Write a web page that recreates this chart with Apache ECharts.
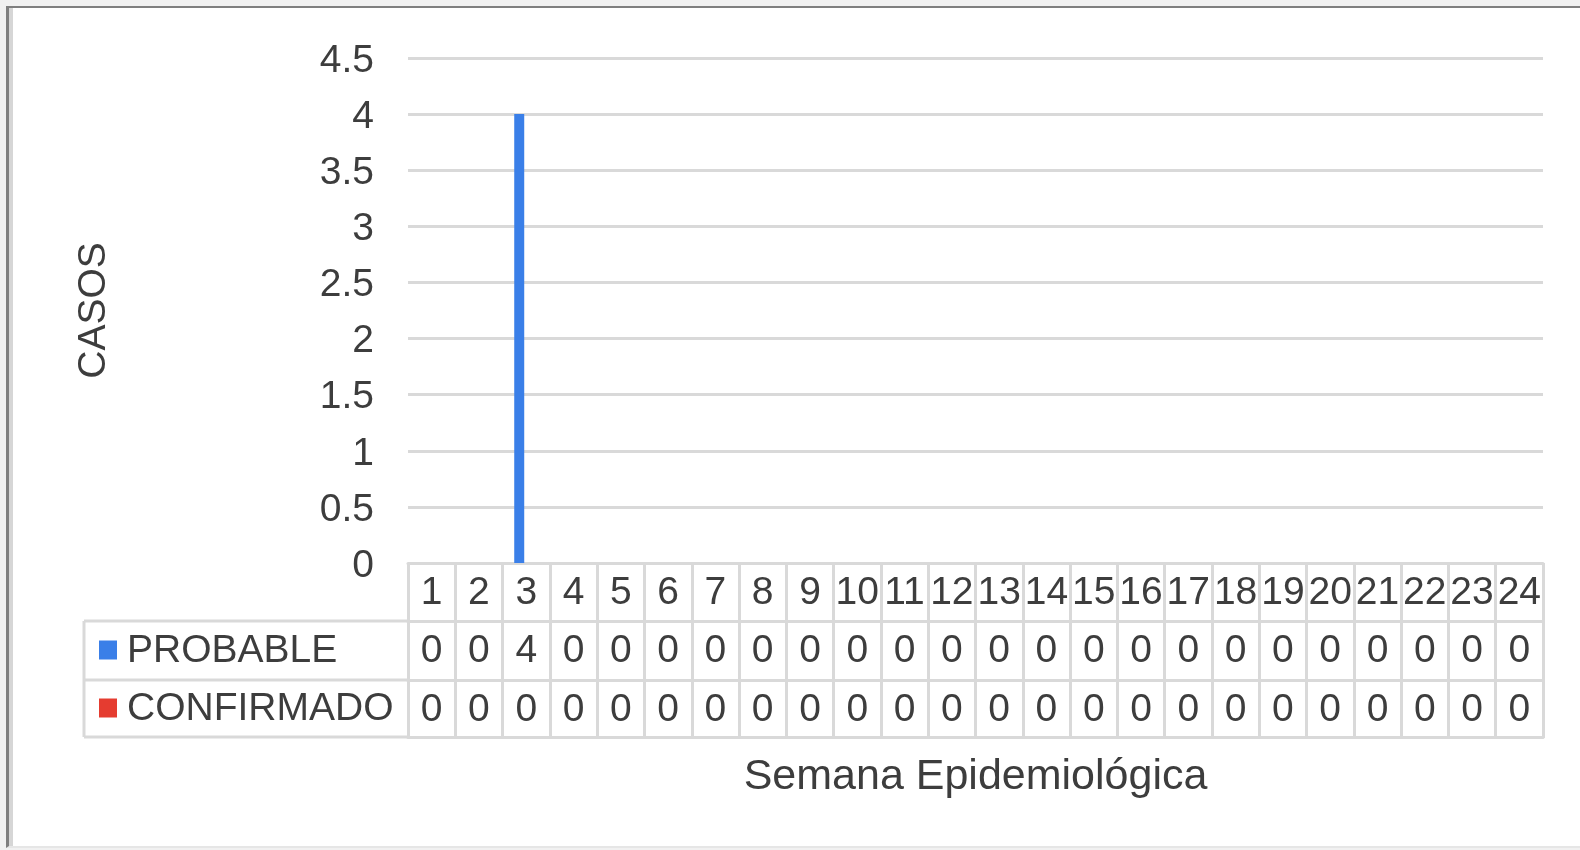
<!DOCTYPE html>
<html>
<head>
<meta charset="utf-8">
<script src="https://cdn.jsdelivr.net/npm/echarts@6/dist/echarts.min.js"></script>
<style>
html,body{margin:0;padding:0;width:1580px;height:850px;overflow:hidden;background:#f1f1f1;}
#frame{position:absolute;left:6px;top:6px;width:1574px;height:842px;background:#fff;border-top:2px solid #7f7f7f;border-left:3px solid #7f7f7f;border-bottom:2px solid #e6e6e6;box-sizing:border-box;box-shadow:inset 4px 0 0 #d6d6d6;}
#chart{position:absolute;left:0;top:0;width:1580px;height:850px;}
</style>
</head>
<body>
<div id="frame"></div>
<div id="chart"></div>
<script>
// ---- data ----
const weeks = ['1','2','3','4','5','6','7','8','9','10','11','12','13','14','15','16','17','18','19','20','21','22','23','24'];
const seriesNames = ['PROBABLE', 'CONFIRMADO'];
const probable = [0,0,4,0,0,0,0,0,0,0,0,0,0,0,0,0,0,0,0,0,0,0,0,0];
const confirmado = [0,0,0,0,0,0,0,0,0,0,0,0,0,0,0,0,0,0,0,0,0,0,0,0];
const yMax = 4.5, yStep = 0.5;
const yName = 'CASOS';
const xName = 'Semana Epidemiológica';

// ---- layout / style ----
const W = 1580, H = 850;
const gLeft = 408, gRight = 37, gTop = 58, gBottomY = 563;
const rowOffsets = [58, 117, 174];
const legendLeft = 84;
const colors = ['#3a7fe8', '#e53c30'];
const txt = '#3d3d3d';
const lineC = '#d9d9d9';
const font = '"Liberation Sans", Arial, sans-serif';
const fs = 39;

const chart = echarts.init(document.getElementById('chart'), null, {renderer: 'canvas'});

function xAx(extra) {
  return Object.assign({
    type: 'category', data: weeks, position: 'bottom', boundaryGap: true,
    axisLine: {show: true, lineStyle: {color: lineC, width: 3}},
    axisTick: {show: false},
    axisLabel: {show: true, interval: 0, margin: 11, color: txt, fontSize: fs, fontFamily: font},
    splitLine: {show: false}
  }, extra);
}

const graphic = [];
const rowYs = rowOffsets.map(o => gBottomY + o);
// horizontal lines of legend column
rowYs.forEach(y => graphic.push({type: 'line', shape: {x1: legendLeft, y1: y, x2: gLeft, y2: y}, style: {stroke: lineC, lineWidth: 3}, silent: true}));
graphic.push({type: 'line', shape: {x1: legendLeft, y1: rowYs[0], x2: legendLeft, y2: rowYs[2]}, style: {stroke: lineC, lineWidth: 3}, silent: true});
// legend keys
seriesNames.forEach((n, i) => {
  const cy = (rowYs[i] + rowYs[i + 1]) / 2;
  graphic.push({type: 'rect', shape: {x: 99, y: cy - 10, width: 18, height: 19}, style: {fill: colors[i]}, silent: true});
  graphic.push({type: 'text', x: 127, y: cy + 1, style: {text: n, fill: txt, font: fs + 'px ' + font, textVerticalAlign: 'middle', textAlign: 'left'}, silent: true});
});

chart.setOption({
  animation: false,
  grid: {left: gLeft, right: gRight, top: gTop, bottom: H - gBottomY, containLabel: false},
  xAxis: [
    xAx({axisTick: {show: true, length: rowOffsets[2] + 1, inside: false, lineStyle: {color: lineC, width: 3}}}),
    xAx({offset: rowOffsets[0], axisLabel: {interval: 0, margin: 11, color: txt, fontSize: fs, fontFamily: font, formatter: (v, i) => String(probable[i])}}),
    xAx({offset: rowOffsets[1], axisLabel: {interval: 0, margin: 11, color: txt, fontSize: fs, fontFamily: font, formatter: (v, i) => String(confirmado[i])}}),
    xAx({offset: rowOffsets[2], axisLabel: {show: false}, name: xName, nameLocation: 'middle', nameGap: 19,
         nameTextStyle: {color: txt, fontSize: 43, fontFamily: font}})
  ],
  yAxis: {
    type: 'value', min: 0, max: yMax, interval: yStep,
    axisLine: {show: false}, axisTick: {show: false},
    axisLabel: {margin: 34, formatter: v => '{v|' + v + '}',
      rich: {v: {color: txt, fontSize: fs, fontFamily: font, padding: [6, 0, 0, 0]}}},
    splitLine: {lineStyle: {color: lineC, width: 3}},
    name: yName, nameLocation: 'middle', nameGap: 294, nameRotate: 90,
    nameTextStyle: {color: txt, fontSize: fs, fontFamily: font}
  },
  series: [
    {name: seriesNames[0], type: 'bar', xAxisIndex: 0, data: probable, barWidth: 10, barGap: '40%', itemStyle: {color: colors[0]}},
    {name: seriesNames[1], type: 'bar', xAxisIndex: 0, data: confirmado, barWidth: 10, barGap: '40%', itemStyle: {color: colors[1]}}
  ],
  graphic: graphic
});
</script>
</body>
</html>
